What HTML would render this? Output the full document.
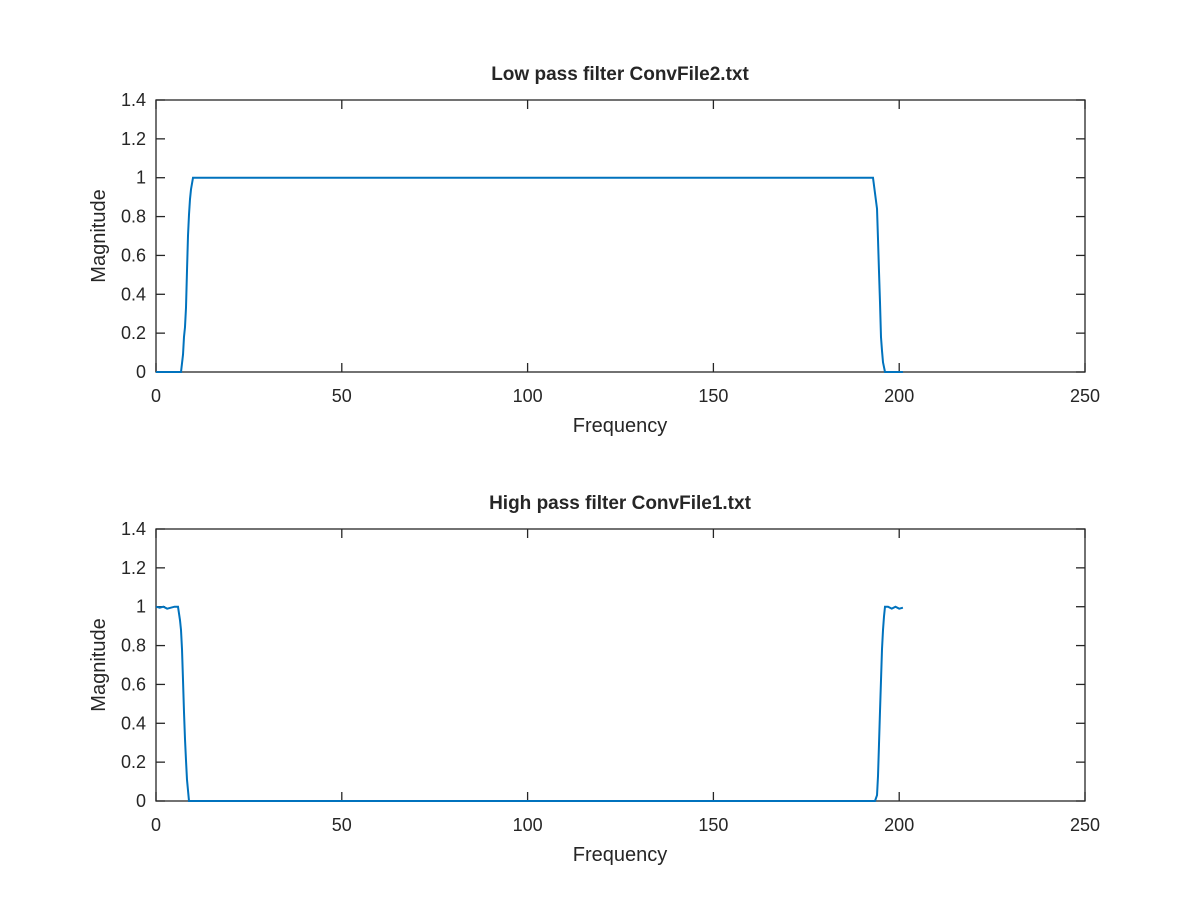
<!DOCTYPE html>
<html><head><meta charset="utf-8"><style>
body{margin:0;background:#fff;font-family:"Liberation Sans",sans-serif}
text{font-family:"Liberation Sans",sans-serif;fill:#262626}
</style></head><body>
<svg id="c" width="1200" height="900" xmlns="http://www.w3.org/2000/svg"></svg>
<script>
const xTicks=[0,50,100,150,200,250];
const yTicks=[0,0.2,0.4,0.6,0.8,1,1.2,1.4];
const yTickLabels=["0","0.2","0.4","0.6","0.8","1","1.2","1.4"];
const lowFreq=[0,6.73,7.27,7.53,7.8,8.07,8.34,8.61,8.88,9.15,9.42,9.96,192.95,193.49,194.03,194.3,194.56,194.83,195.1,195.37,195.64,196.18,201.0];
const lowMag=[0,0,0.09,0.18,0.23,0.33,0.52,0.7,0.81,0.89,0.94,1,1,0.92,0.84,0.68,0.52,0.36,0.18,0.11,0.05,0,0];
const highFreq=[0,1,2,3,4,5,5.92,6.46,6.73,7.0,7.27,7.53,7.8,8.07,8.34,8.88,193.49,194.03,194.3,194.56,194.83,195.1,195.37,195.64,195.91,196.18,197,198,199,200,201];
const highMag=[1,0.995,1,0.99,0.995,1,1,0.93,0.88,0.78,0.62,0.46,0.32,0.21,0.11,0,0,0.03,0.13,0.29,0.46,0.62,0.78,0.88,0.95,1,1,0.99,1,0.99,0.995];
const svg=document.getElementById('c');
const NS="http://www.w3.org/2000/svg";
function mk(t,a,p){const e=document.createElementNS(NS,t);for(const k in a)e.setAttribute(k,a[k]);(p||svg).appendChild(e);return e;}
function panel(top,bottom,title,xs,ys,name){
  const L=156,R=1085;
  const g=mk('g',{});
  
  
  const sx=v=>L+(v-0)/250*(R-L);
  const sy=v=>bottom-(v/1.4)*(bottom-top);
  const box=mk('rect',{x:L,y:top,width:R-L,height:bottom-top,fill:'#fff',stroke:'#262626','stroke-width':1.3},g);
  
  
  xTicks.forEach(v=>{const x=sx(v);
    mk('line',{x1:x,y1:bottom,x2:x,y2:bottom-9,stroke:'#262626','stroke-width':1.3},g);
    mk('line',{x1:x,y1:top,x2:x,y2:top+9,stroke:'#262626','stroke-width':1.3},g);
    const t=mk('text',{x:x,y:bottom+30,'text-anchor':'middle','font-size':18},g);t.textContent=v;
    
    
  });
  yTicks.forEach((v,i)=>{const y=sy(v);
    mk('line',{x1:L,y1:y,x2:L+9,y2:y,stroke:'#262626','stroke-width':1.3},g);
    mk('line',{x1:R,y1:y,x2:R-9,y2:y,stroke:'#262626','stroke-width':1.3},g);
    const t=mk('text',{x:L-10,y:y+6,'text-anchor':'end','font-size':18},g);t.textContent=yTickLabels[i];
    
    
  });
  const pts=xs.map((v,i)=>sx(v).toFixed(2)+','+sy(ys[i]).toFixed(2)).join(' ');
  const pl=mk('polyline',{points:pts,fill:'none',stroke:'#0072BD','stroke-width':2},g);
  
  
  const tt=mk('text',{x:620,y:top-20,'text-anchor':'middle','font-size':19,'font-weight':'bold'},g);tt.textContent=title;
  
  
  const xl=mk('text',{x:620,y:bottom+60,'text-anchor':'middle','font-size':20},g);xl.textContent='Frequency';
  
  
  const yl=mk('text',{x:0,y:0,'text-anchor':'middle','font-size':20,transform:`translate(105,${(top+bottom)/2}) rotate(-90)`},g);yl.textContent='Magnitude';
  
  
}
panel(100,372,'Low pass filter ConvFile2.txt',lowFreq,lowMag,'low-pass-panel');
panel(529,801,'High pass filter ConvFile1.txt',highFreq,highMag,'high-pass-panel');
</script>
</body></html>
